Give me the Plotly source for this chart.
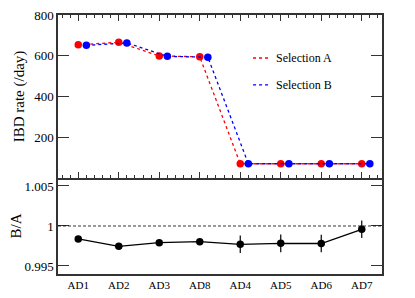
import plotly.graph_objects as go

detectors = ["AD1", "AD2", "AD3", "AD8", "AD4", "AD5", "AD6", "AD7"]
rate_a = [654, 666, 599, 595, 70, 70, 70, 70]
rate_b = [651, 663, 597, 593, 70, 70, 70, 70]
ratio = [0.99838, 0.99746, 0.99791, 0.99804, 0.99771, 0.99783, 0.99781, 0.99959]
ratio_err = [0.0002, 0.0002, 0.0002, 0.0002, 0.0011, 0.0011, 0.0011, 0.0011]
legend_names = ["Selection A", "Selection B"]

pos = list(range(1, len(detectors) + 1))
pos_b = [p + 0.2 for p in pos]

RED = "rgb(255,0,0)"
BLUE = "rgb(0,0,255)"
FONT = "Liberation Serif, Times New Roman, serif"

fig = go.Figure()
fig.add_trace(go.Scatter(x=pos, y=rate_a, mode="lines+markers",
                         line=dict(color=RED, dash="dot", width=1.3),
                         marker=dict(color=RED, size=7.5), xaxis="x", yaxis="y",
                         showlegend=False))
fig.add_trace(go.Scatter(x=pos_b, y=rate_b, mode="lines+markers",
                         line=dict(color=BLUE, dash="dot", width=1.3),
                         marker=dict(color=BLUE, size=7.5), xaxis="x", yaxis="y",
                         showlegend=False))
fig.add_trace(go.Scatter(x=pos, y=ratio, mode="lines+markers",
                         line=dict(color="black", width=1.3),
                         marker=dict(color="black", size=7.5),
                         error_y=dict(type="data", array=ratio_err, color="black",
                                      thickness=1.2, width=0),
                         xaxis="x2", yaxis="y2", showlegend=False))

split = 0.3707
LC = "#333"

fig.update_layout(
    width=399, height=282,
    margin=dict(l=50, r=25, t=7, b=16),
    plot_bgcolor="white", paper_bgcolor="white",
    font=dict(family=FONT, color="black", size=13),
    xaxis=dict(domain=[0, 1], anchor="y", range=[0.5, 8.5],
               tickvals=pos, showticklabels=False, automargin=False,
               ticks="inside", ticklen=6, tickcolor=LC, tickwidth=1.2,
               minor=dict(tickmode="linear", tick0=0.6, dtick=0.2, ticks="inside",
                          ticklen=3, tickcolor=LC, tickwidth=1),
               showline=True, linecolor=LC, linewidth=1.5, mirror="allticks",
               showgrid=False, zeroline=False),
    yaxis=dict(domain=[split, 1], anchor="x", range=[0, 800],
               tickvals=[200, 400, 600, 800], ticks="inside", ticklen=11,
               tickcolor=LC, tickwidth=1.2, automargin=False,
               ticklabeloverflow="allow",
               tickfont=dict(size=13, family=FONT),
               title=dict(text="IBD rate (/day)", font=dict(size=15, family=FONT), standoff=6),
               showline=True, linecolor=LC, linewidth=1.5, mirror="allticks",
               showgrid=False, zeroline=False),
    xaxis2=dict(domain=[0, 1], anchor="y2", range=[0.5, 8.5],
                tickvals=pos, ticktext=detectors, ticks="", automargin=False,
                ticklabeloverflow="allow",
                tickfont=dict(size=11, family=FONT),
                showline=True, linecolor=LC, linewidth=1.5, mirror=False,
                showgrid=False, zeroline=False),
    yaxis2=dict(domain=[0, split], anchor="x2", range=[0.994, 1.006],
                tickvals=[0.995, 1.0, 1.005], ticktext=["0.995", "1", "1.005"],
                ticks="inside", ticklen=11, tickcolor=LC, tickwidth=1.2,
                automargin=False, ticklabeloverflow="allow",
                tickfont=dict(size=13, family=FONT),
                title=dict(text="B/A", font=dict(size=15, family=FONT), standoff=6),
                showline=True, linecolor=LC, linewidth=1.5, mirror="allticks",
                showgrid=False, zeroline=False),
)

# reference line at ratio 1
fig.add_shape(type="line", xref="x2 domain", yref="y2", x0=0, x1=1, y0=1, y1=1,
              line=dict(color="black", width=0.8, dash="3px,2px"))

# legend drawn manually
for i, (name, col) in enumerate(zip(legend_names, [RED, BLUE])):
    yy = 0.834 - i * 0.104
    fig.add_shape(type="line", xref="paper", yref="paper", x0=0.602, x1=0.654,
                  y0=yy, y1=yy, line=dict(color=col, dash="dot", width=1.3))
    fig.add_annotation(xref="paper", yref="paper", x=0.668, y=yy, text=name,
                       showarrow=False, xanchor="left", yanchor="middle",
                       font=dict(size=12, family=FONT))

fig.write_html("out.html")
